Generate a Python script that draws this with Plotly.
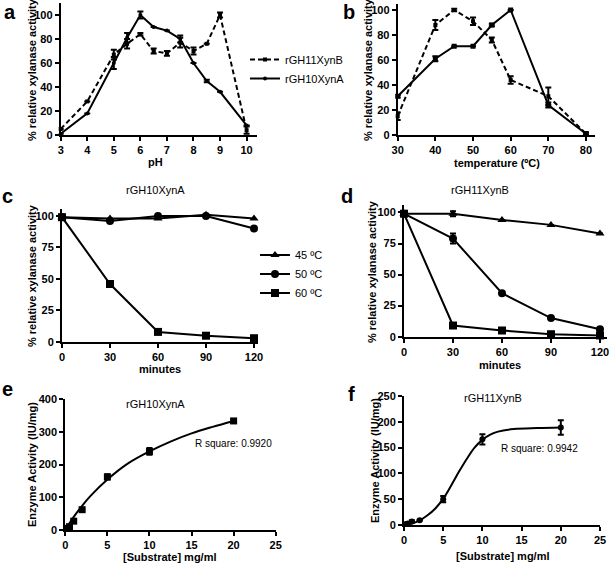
import plotly.graph_objects as go

W, H = 609, 564

# ---------- data ----------
# (a) pH profile
ph = [3, 4, 5, 5.5, 6, 6.5, 7, 7.5, 8, 8.5, 9, 10]
ph_xynB = [5, 28, 67, 76, 84, 70, 68, 77, 70, 76, 100, 4]
ph_xynB_err = [0, 0, 4, 4, 1, 2, 2, 4, 3, 0, 2, 3]
ph_xynA = [1, 18, 60, 81, 100, 90, 87, 80, 60, 45, 36, 8]
ph_xynA_err = [0, 0, 5, 4, 3, 0, 0, 3, 0, 1, 0, 0]

# (b) temperature profile
temp = [30, 40, 45, 50, 55, 60, 70, 80]
t_xynB = [15, 88, 100, 91, 76, 44, 31, 1]
t_xynB_err = [3, 4, 1, 3, 2, 3, 7, 1]
t_xynA = [31, 61, 71, 71, 88, 100, 24, 1]
t_xynA_err = [1, 2, 0, 0, 1, 0, 2, 1]

# (c)/(d) thermostability
minutes = [0, 30, 60, 90, 120]
c45 = [99, 98, 98, 101, 98]
c50 = [99, 96, 100, 100, 90]
c60 = [99, 46, 8, 5, 3]
d45 = [99, 99, 94, 90, 83]
d45_err = [0, 2, 0, 0, 0]
d50 = [99, 79, 35, 15, 6]
d50_err = [0, 4, 0, 0, 0]
d60 = [99, 9, 5, 2, 1]
d60_err = [0, 2, 0, 0, 0]

# (e)/(f) kinetics
substrate = [0.25, 0.5, 1, 2, 5, 10, 20]
e_act = [5, 10, 27, 62, 162, 240, 333]
e_err = [2, 3, 3, 3, 8, 10, 5]
e_fit_x = [0, 1, 2, 3, 5, 7.5, 10, 12.5, 15, 17.5, 20]
e_fit_y = [0, 40, 74, 104, 154, 204, 240, 270, 295, 315, 333]
f_act = [2, 3, 7, 9, 50, 166, 189]
f_err = [1, 1, 2, 1, 6, 10, 14]
f_fit_x = [0, 1, 2, 3, 4, 5, 6, 7, 8, 9, 10, 11, 12, 14, 17, 20]
f_fit_y = [0, 3, 9, 19, 32, 51, 76, 103, 128, 150, 165, 175, 181, 186, 188, 189]

# ---------- helpers ----------
FONT = "Liberation Sans"
def px_x(p): return p / W
def px_y(p): return 1 - p / H

def axis(domain, rng, tickvals, anchor):
    return dict(domain=domain, range=rng, anchor=anchor, tickvals=tickvals,
                showline=True, linewidth=2, linecolor="black", automargin=False,
                ticks="outside", ticklen=4, tickwidth=2, tickcolor="black",
                showgrid=False, zeroline=False, ticklabeloverflow="allow",
                tickfont=dict(family=FONT, size=11, color="black", weight="bold"))

LW = 2
ERR = lambda arr: dict(type="data", array=arr, visible=True, thickness=2, width=3, color="black")

fig = go.Figure()

# (a)
fig.add_trace(go.Scatter(x=ph, y=ph_xynB, error_y=ERR(ph_xynB_err), name="rGH11XynB",
    mode="lines+markers", line=dict(color="black", width=LW, dash="5px,3px"),
    marker=dict(symbol="square", size=4, color="black"), xaxis="x", yaxis="y",
    legend="legend", cliponaxis=False))
fig.add_trace(go.Scatter(x=ph, y=ph_xynA, error_y=ERR(ph_xynA_err), name="rGH10XynA",
    mode="lines+markers", line=dict(color="black", width=LW),
    marker=dict(symbol="circle", size=4, color="black"), xaxis="x", yaxis="y",
    legend="legend", cliponaxis=False))
# (b)
fig.add_trace(go.Scatter(x=temp, y=t_xynB, error_y=ERR(t_xynB_err), name="rGH11XynB",
    mode="lines+markers", line=dict(color="black", width=LW, dash="5px,3px"),
    marker=dict(symbol="square", size=4, color="black"), xaxis="x2", yaxis="y2",
    showlegend=False, cliponaxis=False))
fig.add_trace(go.Scatter(x=temp, y=t_xynA, error_y=ERR(t_xynA_err), name="rGH10XynA",
    mode="lines+markers", line=dict(color="black", width=LW),
    marker=dict(symbol="square", size=5, color="black"), xaxis="x2", yaxis="y2",
    showlegend=False, cliponaxis=False))
# (c)
for vals, sym, nm in [(c45, "triangle-up", "45 ºC"), (c50, "circle", "50 ºC"), (c60, "square", "60 ºC")]:
    fig.add_trace(go.Scatter(x=minutes, y=vals, name=nm, mode="lines+markers",
        line=dict(color="black", width=LW), marker=dict(symbol=sym, size=8, color="black"),
        xaxis="x3", yaxis="y3", legend="legend2", cliponaxis=False))
# (d)
for vals, err, sym, nm in [(d45, d45_err, "triangle-up", "45 ºC"), (d50, d50_err, "circle", "50 ºC"),
                           (d60, d60_err, "square", "60 ºC")]:
    fig.add_trace(go.Scatter(x=minutes, y=vals, error_y=ERR(err), name=nm, mode="lines+markers",
        line=dict(color="black", width=LW), marker=dict(symbol=sym, size=8, color="black"),
        xaxis="x4", yaxis="y4", showlegend=False, cliponaxis=False))
# (e)
fig.add_trace(go.Scatter(x=e_fit_x, y=e_fit_y, mode="lines", line=dict(color="black", width=LW, shape="spline"),
    xaxis="x5", yaxis="y5", showlegend=False, hoverinfo="skip"))
fig.add_trace(go.Scatter(x=substrate, y=e_act, error_y=ERR(e_err), mode="markers",
    marker=dict(symbol="square", size=7, color="black"), xaxis="x5", yaxis="y5",
    showlegend=False, cliponaxis=False, name="rGH10XynA"))
# (f)
fig.add_trace(go.Scatter(x=f_fit_x, y=f_fit_y, mode="lines", line=dict(color="black", width=LW, shape="spline"),
    xaxis="x6", yaxis="y6", showlegend=False, hoverinfo="skip"))
fig.add_trace(go.Scatter(x=substrate, y=f_act, error_y=ERR(f_err), mode="markers",
    marker=dict(symbol="circle", size=6, color="black"), xaxis="x6", yaxis="y6",
    showlegend=False, cliponaxis=False, name="rGH11XynB"))

layout = dict(
    width=W, height=H, margin=dict(l=0, r=0, t=0, b=0, autoexpand=False),
    paper_bgcolor="white", plot_bgcolor="white",
    font=dict(family=FONT, size=11, color="black"),
    xaxis=axis([px_x(60.7), px_x(256.7)], [3, 10.38], [3, 4, 5, 6, 7, 8, 9, 10], "y"),
    yaxis=axis([px_y(135), px_y(3)], [0, 110], [0, 20, 40, 60, 80, 100], "x"),
    xaxis2=axis([px_x(397.7), px_x(595)], [30, 82.4], [30, 40, 50, 60, 70, 80], "y2"),
    yaxis2=axis([px_y(135), px_y(4)], [0, 104.8], [0, 20, 40, 60, 80, 100], "x2"),
    xaxis3=axis([px_x(62), px_x(258)], [0, 122.5], [0, 30, 60, 90, 120], "y3"),
    yaxis3=axis([px_y(342), px_y(209)], [0, 105.5], [0, 25, 50, 75, 100], "x3"),
    xaxis4=axis([px_x(404), px_x(607)], [0, 124.3], [0, 30, 60, 90, 120], "y4"),
    yaxis4=axis([px_y(336.7), px_y(205)], [0, 106], [0, 25, 50, 75, 100], "x4"),
    xaxis5=axis([px_x(65.3), px_x(275.7)], [0, 25], [0, 5, 10, 15, 20, 25], "y5"),
    yaxis5=axis([px_y(530), px_y(399)], [0, 400], [0, 100, 200, 300, 400], "x5"),
    xaxis6=axis([px_x(404), px_x(600)], [0, 25], [0, 5, 10, 15, 20, 25], "y6"),
    yaxis6=axis([px_y(525), px_y(396)], [0, 250], [0, 50, 100, 150, 200, 250], "x6"),
    legend=dict(x=px_x(245), y=px_y(69), xanchor="left", yanchor="middle",
                font=dict(family=FONT, size=11, color="black"), bgcolor="rgba(0,0,0,0)",
                tracegroupgap=0, itemwidth=30),
    legend2=dict(x=px_x(255), y=px_y(274), xanchor="left", yanchor="middle",
                 font=dict(family=FONT, size=11, color="black"), bgcolor="rgba(0,0,0,0)",
                 tracegroupgap=0, itemwidth=30),
)
fig.update_layout(**layout)

def ann(text, x, y, size=11, bold=False, angle=0, xanchor="center"):
    fig.add_annotation(text=text, x=px_x(x), y=px_y(y), xref="paper", yref="paper",
        showarrow=False, textangle=angle, xanchor=xanchor, yanchor="middle",
        font=dict(family=FONT, size=size, color="black", weight="bold" if bold else "normal"))

# panel letters
ann("a", 10, 12, size=20, bold=True)
ann("b", 349, 12, size=20, bold=True)
ann("c", 7, 196, size=20, bold=True)
ann("d", 347, 196, size=20, bold=True)
ann("e", 7, 389, size=20, bold=True)
ann("f", 351, 394, size=20, bold=True)

# axis titles
ylab = "% relative xylanase activity"
ann(ylab, 32, 70, bold=True, angle=-90)
ann(ylab, 368, 70, bold=True, angle=-90)
ann(ylab, 32, 276, bold=True, angle=-90)
ann(ylab, 372, 272, bold=True, angle=-90)
ann("Enzyme Activity (IU/mg)", 32, 465, bold=True, angle=-90)
ann("Enzyme Activity (IU/mg)", 375, 461, bold=True, angle=-90)
ann("pH", 155, 162, bold=True)
ann("temperature (ºC)", 497, 163, bold=True)
ann("minutes", 160, 369, bold=True)
ann("minutes", 500, 365, bold=True)
ann("[Substrate] mg/ml", 170, 557, bold=True)
ann("[Substrate] mg/ml", 503, 556, bold=True)

# panel titles & notes
ann("rGH10XynA", 155, 190)
ann("rGH11XynB", 480, 190)
ann("rGH10XynA", 155, 404)
ann("rGH11XynB", 493, 398)
ann("R square: 0.9920", 233, 443, size=10)
ann("R square: 0.9942", 539, 448, size=10)

fig.write_html("out.html", config={"displayModeBar": False},
               post_script="document.body.style.margin='0';document.body.style.overflow='hidden';")
